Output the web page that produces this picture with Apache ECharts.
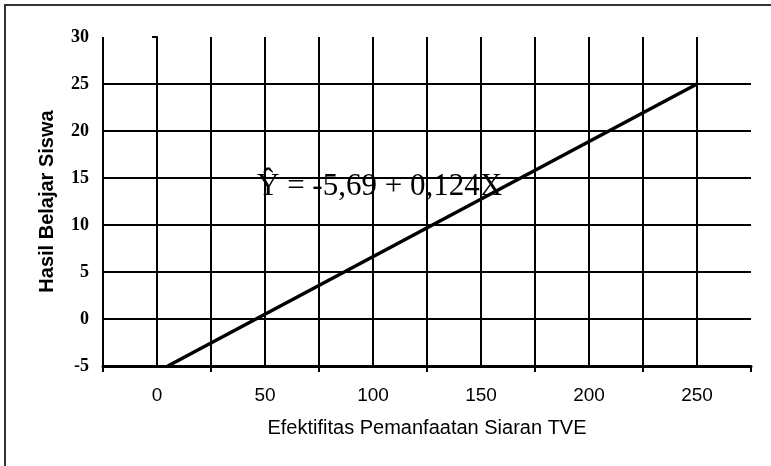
<!DOCTYPE html>
<html>
<head>
<meta charset="utf-8">
<script src="https://cdn.jsdelivr.net/npm/echarts@6/dist/echarts.min.js"></script>
<style>
  html, body { margin: 0; padding: 0; background: #fff; }
  #chart { width: 771px; height: 466px; }
</style>
</head>
<body>
<div id="chart"></div>
<script>
// ---- data ----
const xTickLabels = ['0', '50', '100', '150', '200', '250'];
const lineX = [5, 250];
const lineY = [-5, 25];
const equationText = 'Ŷ = -5,69 + 0,124X';
const xTitle = 'Efektifitas Pemanfaatan Siaran TVE';
const yTitle = 'Hasil Belajar Siswa';

const chart = echarts.init(document.getElementById('chart'), null, { renderer: 'canvas' });

const lineData = lineX.map((x, i) => [x, lineY[i]]);

chart.setOption({
  backgroundColor: '#ffffff',
  animation: false,
  grid: { left: 103, right: 20, top: 37, bottom: 100, containLabel: false },
  xAxis: [
    {
      type: 'value',
      position: 'bottom',
      min: -25, max: 275, interval: 25,
      axisLine: { show: false },
      axisTick: { show: false },
      axisLabel: { show: false },
      splitLine: { show: true, showMaxLine: false, lineStyle: { color: '#000', width: 2 } }
    },
    {
      type: 'category',
      position: 'bottom',
      data: xTickLabels,
      boundaryGap: true,
      axisLine: { show: true, lineStyle: { color: '#000', width: 3 } },
      axisTick: { show: true, length: 6, lineStyle: { color: '#000', width: 2 } },
      axisLabel: { show: true, margin: 20, fontFamily: 'Liberation Sans, Arial', fontSize: 19, color: '#000' },
      splitLine: { show: false },
      name: xTitle,
      nameLocation: 'middle',
      nameGap: 52,
      nameTextStyle: { fontFamily: 'Liberation Sans, Arial', fontSize: 20, color: '#000' }
    }
  ],
  yAxis: {
    type: 'value',
    min: -5, max: 30, interval: 5,
    axisLine: { show: true, lineStyle: { color: '#000', width: 2 } },
    axisTick: { show: true, length: 5, lineStyle: { color: '#000', width: 2 } },
    axisLabel: { margin: 14, fontFamily: 'Liberation Serif, Times New Roman', fontSize: 18, fontWeight: 'bold', color: '#000' },
    splitLine: { show: true, showMaxLine: false, lineStyle: { color: '#000', width: 2 } },
    name: yTitle,
    nameLocation: 'middle',
    nameRotate: 90,
    nameGap: 46,
    nameTextStyle: { fontFamily: 'Liberation Sans, Arial', fontSize: 20, fontWeight: 'bold', color: '#000' }
  },
  series: [{
    type: 'line',
    xAxisIndex: 0,
    data: lineData,
    symbol: 'none',
    lineStyle: { color: '#000', width: 3.5 },
    z: 5
  }],
  graphic: [
    {
      type: 'rect',
      shape: { x: 5, y: 5, width: 800, height: 500 },
      style: { fill: 'none', stroke: '#333', lineWidth: 2 },
      silent: true
    },
    {
      type: 'text',
      left: 257, top: 171,
      style: {
        text: equationText,
        font: '31px "Liberation Serif", "Times New Roman", serif',
        fill: '#000'
      },
      z: 10
    }
  ]
});
</script>
</body>
</html>
